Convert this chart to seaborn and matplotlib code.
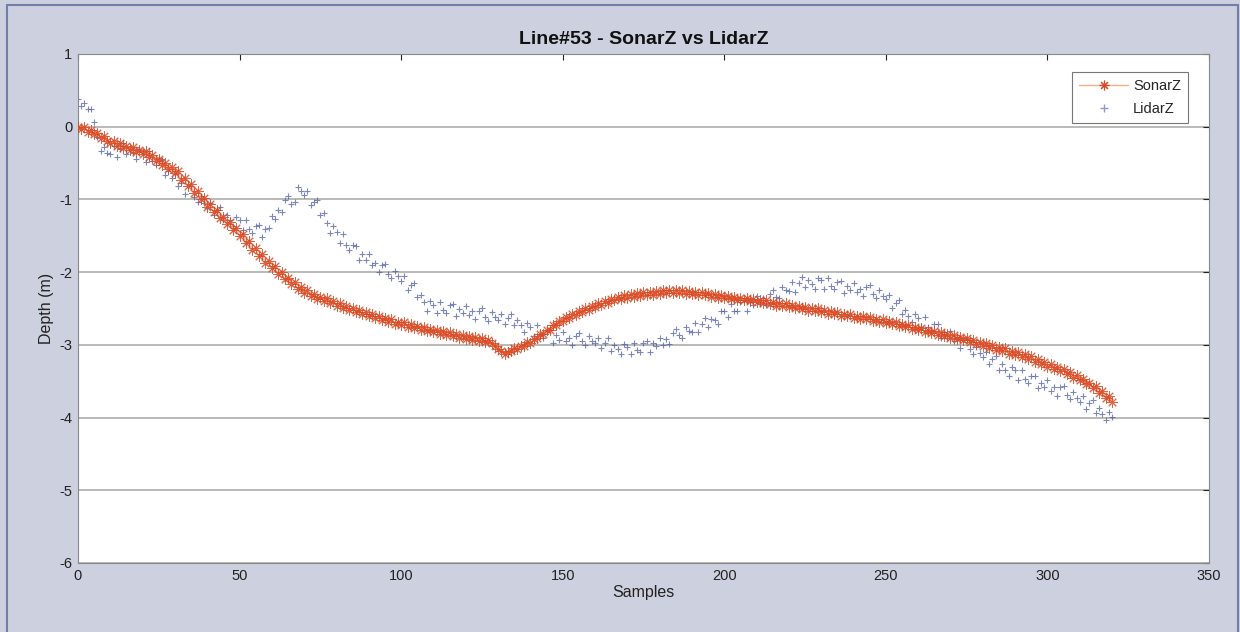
import numpy as np
import pandas as pd
import seaborn as sns
import matplotlib
matplotlib.use("Agg")
import matplotlib.pyplot as plt
from matplotlib.lines import Line2D
from matplotlib.patches import Rectangle

# ---- data -------------------------------------------------------------
sonar_z = [
    0.00, -0.03, -0.01, -0.07, -0.04, -0.10, -0.08, -0.15, -0.13, -0.19,
    -0.22, -0.19, -0.26, -0.22, -0.29, -0.26, -0.32, -0.28, -0.35, -0.32,
    -0.37, -0.34, -0.41, -0.39, -0.47, -0.44, -0.52, -0.50, -0.58, -0.56,
    -0.64, -0.61, -0.73, -0.70, -0.82, -0.79, -0.91, -0.88, -1.00, -0.98,
    -1.10, -1.07, -1.18, -1.15, -1.26, -1.24, -1.34, -1.31, -1.42, -1.40,
    -1.50, -1.47, -1.60, -1.57, -1.69, -1.67, -1.78, -1.75, -1.87, -1.85,
    -1.95, -1.92, -2.03, -2.00, -2.10, -2.08, -2.17, -2.14, -2.23, -2.21,
    -2.29, -2.25, -2.33, -2.30, -2.37, -2.34, -2.40, -2.36, -2.43, -2.40,
    -2.46, -2.42, -2.49, -2.46, -2.52, -2.49, -2.55, -2.52, -2.58, -2.55,
    -2.61, -2.57, -2.63, -2.60, -2.66, -2.63, -2.68, -2.64, -2.71, -2.68,
    -2.73, -2.69, -2.75, -2.71, -2.77, -2.74, -2.79, -2.75, -2.81, -2.78,
    -2.83, -2.79, -2.85, -2.81, -2.86, -2.83, -2.88, -2.85, -2.90, -2.87,
    -2.92, -2.88, -2.93, -2.89, -2.95, -2.91, -2.96, -2.93, -2.98, -3.02,
    -3.06, -3.09, -3.12, -3.10, -3.08, -3.05, -3.06, -3.01, -3.02, -2.96,
    -2.97, -2.92, -2.91, -2.85, -2.85, -2.79, -2.79, -2.73, -2.73, -2.67,
    -2.67, -2.62, -2.63, -2.58, -2.59, -2.54, -2.55, -2.50, -2.52, -2.47,
    -2.48, -2.43, -2.45, -2.40, -2.42, -2.37, -2.39, -2.34, -2.37, -2.32,
    -2.35, -2.30, -2.34, -2.29, -2.33, -2.28, -2.32, -2.27, -2.31, -2.26,
    -2.30, -2.25, -2.29, -2.25, -2.29, -2.24, -2.29, -2.25, -2.30, -2.26,
    -2.30, -2.27, -2.31, -2.28, -2.32, -2.29, -2.34, -2.30, -2.35, -2.31,
    -2.36, -2.33, -2.37, -2.34, -2.38, -2.35, -2.39, -2.36, -2.40, -2.37,
    -2.41, -2.38, -2.43, -2.39, -2.44, -2.41, -2.46, -2.42, -2.47, -2.43,
    -2.48, -2.45, -2.50, -2.46, -2.51, -2.48, -2.53, -2.49, -2.54, -2.50,
    -2.55, -2.52, -2.57, -2.53, -2.58, -2.55, -2.60, -2.57, -2.61, -2.58,
    -2.63, -2.60, -2.64, -2.61, -2.65, -2.62, -2.67, -2.64, -2.68, -2.65,
    -2.70, -2.67, -2.72, -2.69, -2.74, -2.71, -2.76, -2.73, -2.78, -2.75,
    -2.80, -2.77, -2.82, -2.79, -2.84, -2.81, -2.86, -2.83, -2.88, -2.85,
    -2.90, -2.87, -2.92, -2.89, -2.94, -2.91, -2.96, -2.93, -2.99, -2.96,
    -3.01, -2.97, -3.04, -3.00, -3.07, -3.03, -3.09, -3.05, -3.12, -3.08,
    -3.14, -3.10, -3.17, -3.13, -3.20, -3.16, -3.23, -3.20, -3.26, -3.23,
    -3.30, -3.27, -3.33, -3.30, -3.36, -3.33, -3.40, -3.37, -3.45, -3.42,
    -3.49, -3.47, -3.54, -3.52, -3.59, -3.57, -3.66, -3.64, -3.73, -3.71,
    -3.78,
]

lidar_z = [
    0.38, 0.29, 0.33, 0.24, 0.25, 0.07, -0.14, -0.33, -0.28, -0.36,
    -0.37, -0.27, -0.41, -0.31, -0.23, -0.38, -0.30, -0.36, -0.44, -0.31,
    -0.35, -0.48, -0.34, -0.47, -0.52, -0.43, -0.46, -0.67, -0.61, -0.71,
    -0.65, -0.81, -0.78, -0.92, -0.82, -0.82, -0.97, -1.04, -0.96, -1.05,
    -1.12, -1.05, -1.22, -1.14, -1.10, -1.28, -1.21, -1.28, -1.37, -1.24,
    -1.29, -1.42, -1.28, -1.41, -1.46, -1.37, -1.35, -1.52, -1.41, -1.40,
    -1.23, -1.27, -1.14, -1.17, -1.01, -0.95, -1.06, -1.03, -0.83, -0.88,
    -0.94, -0.89, -1.08, -1.03, -1.01, -1.21, -1.19, -1.32, -1.46, -1.37,
    -1.45, -1.60, -1.48, -1.63, -1.70, -1.63, -1.64, -1.83, -1.75, -1.83,
    -1.75, -1.90, -1.87, -2.00, -1.90, -1.89, -2.02, -2.08, -1.98, -2.06,
    -2.12, -2.06, -2.24, -2.18, -2.15, -2.34, -2.31, -2.41, -2.54, -2.40,
    -2.45, -2.56, -2.41, -2.52, -2.56, -2.45, -2.44, -2.60, -2.51, -2.56,
    -2.46, -2.59, -2.54, -2.65, -2.53, -2.50, -2.62, -2.67, -2.55, -2.62,
    -2.66, -2.57, -2.72, -2.63, -2.57, -2.73, -2.66, -2.73, -2.83, -2.70,
    -2.75, -2.88, -2.73, -2.86, -2.90, -2.81, -2.80, -2.97, -2.87, -2.93,
    -2.83, -2.95, -2.90, -3.00, -2.88, -2.84, -2.95, -3.00, -2.88, -2.95,
    -2.98, -2.90, -3.05, -2.97, -2.91, -3.08, -3.00, -3.06, -3.13, -2.99,
    -3.03, -3.13, -2.97, -3.07, -3.10, -2.98, -2.95, -3.10, -2.98, -3.02,
    -2.90, -3.00, -2.92, -2.99, -2.84, -2.78, -2.87, -2.90, -2.76, -2.81,
    -2.82, -2.70, -2.83, -2.71, -2.63, -2.76, -2.64, -2.66, -2.71, -2.53,
    -2.53, -2.62, -2.44, -2.53, -2.54, -2.41, -2.38, -2.53, -2.41, -2.45,
    -2.33, -2.44, -2.36, -2.45, -2.30, -2.25, -2.34, -2.36, -2.21, -2.25,
    -2.26, -2.14, -2.27, -2.15, -2.07, -2.20, -2.11, -2.16, -2.23, -2.08,
    -2.11, -2.23, -2.08, -2.19, -2.23, -2.13, -2.12, -2.29, -2.19, -2.25,
    -2.15, -2.28, -2.23, -2.33, -2.21, -2.18, -2.30, -2.36, -2.25, -2.33,
    -2.37, -2.31, -2.49, -2.42, -2.39, -2.58, -2.52, -2.60, -2.69, -2.57,
    -2.63, -2.76, -2.62, -2.76, -2.81, -2.72, -2.72, -2.90, -2.83, -2.90,
    -2.81, -2.95, -2.92, -3.04, -2.94, -2.92, -3.06, -3.12, -3.03, -3.11,
    -3.17, -3.10, -3.27, -3.20, -3.16, -3.34, -3.27, -3.34, -3.43, -3.30,
    -3.35, -3.48, -3.34, -3.47, -3.52, -3.43, -3.43, -3.60, -3.52, -3.58,
    -3.49, -3.63, -3.58, -3.70, -3.58, -3.56, -3.69, -3.75, -3.65, -3.73,
    -3.78, -3.71, -3.88, -3.80, -3.76, -3.94, -3.87, -3.95, -4.04, -3.92,
    -3.99,
]

samples = list(range(len(sonar_z)))
df = pd.DataFrame({"Samples": samples, "SonarZ": sonar_z, "LidarZ": lidar_z})

x_ticks = [0, 50, 100, 150, 200, 250, 300, 350]
y_ticks = [1, 0, -1, -2, -3, -4, -5, -6]

# ---- style ------------------------------------------------------------
sns.set_style("white")
plt.rcParams["font.family"] = ["Liberation Sans", "DejaVu Sans"]

fig_bg = "#cdd0de"
sonar_line = "#f6ae86"
sonar_mark = "#da4a24"
lidar_mark = "#44559f"
asterisk = (8, 2, 0)

fig = plt.figure(figsize=(12.4, 6.32), dpi=100, facecolor=fig_bg)
ax = fig.add_axes([0.0629, 0.1092, 0.9121, 0.8054])
ax.set_facecolor("white")

# LidarZ: markers only
sns.scatterplot(data=df, x="Samples", y="LidarZ", ax=ax, marker="+",
                s=18, color=lidar_mark, linewidth=0.8, alpha=0.7,
                zorder=2, legend=False)

# SonarZ: thin line with asterisk markers
sns.lineplot(data=df, x="Samples", y="SonarZ", ax=ax, color=sonar_line,
             linewidth=0.7, marker=asterisk, markersize=7.5,
             markeredgecolor=sonar_mark, markerfacecolor=sonar_mark,
             markeredgewidth=0.7, alpha=0.85, zorder=3, legend=False)

ax.set_xlim(0, 350)
ax.set_ylim(-6, 1)
ax.set_xticks(x_ticks)
ax.set_yticks(y_ticks)
ax.set_xticklabels([str(v) for v in x_ticks])
ax.set_yticklabels([str(v) for v in y_ticks])
ax.yaxis.grid(True, color="#a6a6a0", linewidth=1.1)
ax.xaxis.grid(False)
ax.set_axisbelow(True)

ax.tick_params(direction="in", length=4, width=0.8, top=True, right=True,
               labelsize=10.5, colors="#222222", pad=4)
for side in ["left", "right", "top", "bottom"]:
    ax.spines[side].set_visible(True)
    ax.spines[side].set_color("#888888")
    ax.spines[side].set_linewidth(0.8)

ax.set_xlabel("Samples", fontsize=11.5, color="#222222", labelpad=2)
ax.set_ylabel("Depth (m)", fontsize=11.5, color="#222222", labelpad=4)
ax.set_title("Line#53 - SonarZ vs LidarZ", fontsize=14, fontweight="bold",
             color="#111111", pad=7)

handles = [
    Line2D([0], [0], color=sonar_line, linewidth=1.0, marker=asterisk,
           markersize=7, markeredgecolor=sonar_mark,
           markerfacecolor=sonar_mark, markeredgewidth=0.8),
    Line2D([0], [0], linestyle="none", marker="+", markersize=6,
           color=lidar_mark, alpha=0.6),
]
leg = ax.legend(handles, ["SonarZ", "LidarZ"], loc="upper right",
                bbox_to_anchor=(0.988, 0.979), fontsize=10.5,
                handlelength=3.4, handletextpad=0.3, borderpad=0.5,
                labelspacing=0.6, frameon=True, fancybox=False)
leg.get_frame().set_edgecolor("#555555")
leg.get_frame().set_linewidth(0.8)

# figure border
fig.patches.append(Rectangle((0.0056, -0.02), 0.9924, 1.012,
                             transform=fig.transFigure, fill=False,
                             edgecolor="#6f7eaa", linewidth=1.5))

fig.savefig("out.png", dpi=100, facecolor=fig_bg)
